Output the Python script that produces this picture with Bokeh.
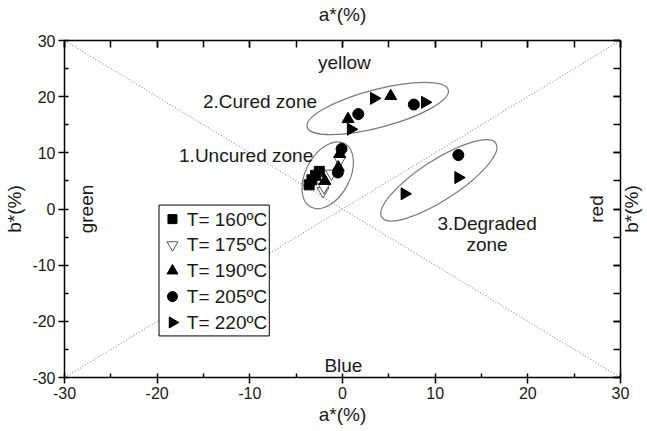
import numpy as np
from bokeh.plotting import figure
from bokeh.models import LinearAxis, SingleIntervalTicker, Range1d, CustomJSTickFormatter
from bokeh.core.properties import value
from bokeh.embed import file_html
from bokeh.resources import INLINE

# ---- data ----
a_160 = [-3.6, -3.3, -2.9, -2.5]
b_160 = [4.3, 5.2, 6.0, 6.7]

a_175 = [-2.1, -2.0, -1.2, -0.3]
b_175 = [3.2, 3.9, 6.3, 8.7]

a_190 = [-1.9, -0.45, -0.3, 0.6, 5.2]
b_190 = [5.0, 7.4, 9.8, 16.0, 20.1]

a_205 = [-0.5, -0.1, 1.7, 7.7, 12.5]
b_205 = [6.5, 10.7, 16.9, 18.6, 9.6]

a_220 = [0.9, 3.4, 8.9, 6.7, 12.5]
b_220 = [14.2, 19.7, 19.0, 2.7, 5.6]

series_labels = ["T= 160ºC", "T= 175ºC", "T= 190ºC", "T= 205ºC", "T= 220ºC"]
axis_title = "a*(%)"
yaxis_title = "b*(%)"

FONT = "Liberation Sans"
TXT = "#1a1a1a"
FL, FR, FT, FB = 64, 27, 38, 54   # frame borders

p = figure(width=647, height=431, output_backend="svg", toolbar_location=None,
           x_range=Range1d(-30, 30), y_range=Range1d(-30, 30),
           x_axis_location=None, y_axis_location=None)
p.min_border_left = FL
p.min_border_right = FR
p.min_border_top = FT
p.min_border_bottom = FB
p.xgrid.visible = False
p.ygrid.visible = False
p.outline_line_color = None
p.background_fill_color = "white"
p.border_fill_color = "white"

fmt = CustomJSTickFormatter(code="return tick.toString();")

def make_axis(label, show_labels, major_out, major_in, minor_out, minor_in):
    ax = LinearAxis(ticker=SingleIntervalTicker(interval=10, num_minor_ticks=2), formatter=fmt)
    ax.axis_label = label
    ax.axis_label_text_font = FONT
    ax.axis_label_text_font_size = "19px"
    ax.axis_label_text_font_style = "normal"
    ax.axis_label_text_color = TXT
    ax.major_label_text_font = FONT
    ax.major_label_text_font_size = "16px"
    ax.major_label_text_color = TXT
    if not show_labels:
        ax.major_label_text_font_size = "0px"
        ax.major_label_standoff = 0
    ax.axis_line_color = "black"
    ax.axis_line_width = 1.5
    ax.major_tick_line_color = "black"
    ax.minor_tick_line_color = "black"
    ax.major_tick_line_width = 1.5
    ax.minor_tick_line_width = 1.5
    ax.major_tick_out = major_out
    ax.major_tick_in = major_in
    ax.minor_tick_out = minor_out
    ax.minor_tick_in = minor_in
    return ax

bottom = make_axis(axis_title, True, 6, 0, 0, 4)
bottom.major_label_standoff = 3
bottom.axis_label_standoff = 2
left = make_axis(yaxis_title, True, 6, 0, 0, 4)
left.major_label_standoff = 3
left.axis_label_standoff = 4
top = make_axis(axis_title, False, 0, 7, 0, 7)
top.axis_label_standoff = 16
right = make_axis("", False, 0, 7, 0, 7)
p.add_layout(bottom, "below")
p.add_layout(left, "left")
p.add_layout(top, "above")
p.add_layout(right, "right")

# right-hand axis title, reading bottom-to-top like the left one (overlay level, outside the frame)
p.text(x=[31.2], y=[0.0], text=[yaxis_title], angle=np.pi / 2, text_font=value(FONT),
       text_font_size="19px", text_color=TXT, text_align="center", text_baseline="middle",
       level="overlay")

# dotted diagonals
p.line([-30, 30], [30, -30], line_color="#9a9a9a", line_dash="1 2", line_width=1.2)
p.line([-30, 30], [-30, 30], line_color="#9a9a9a", line_dash="1 2", line_width=1.2)

# zone outlines
p.ellipse(x=[-1.6], y=[6.0], width=[72], height=[44], angle=[62], angle_units="deg",
          width_units="screen", height_units="screen", fill_color=None,
          line_color="#7a7a7a", line_width=1.2)
p.ellipse(x=[3.8], y=[17.9], width=[146], height=[38], angle=[14.7], angle_units="deg",
          width_units="screen", height_units="screen", fill_color=None,
          line_color="#7a7a7a", line_width=1.2)
p.ellipse(x=[10.4], y=[5.1], width=[136], height=[40], angle=[33], angle_units="deg",
          width_units="screen", height_units="screen", fill_color=None,
          line_color="#7a7a7a", line_width=1.2)

# marker styles per series
styles = [dict(marker="square", size=10, fill_color="black", line_color="black", angle=0.0),
          dict(marker="inverted_triangle", size=12, fill_color="white", line_color="#555555", angle=0.0),
          dict(marker="triangle", size=12, fill_color="black", line_color="black", angle=0.0),
          dict(marker="circle", size=11, fill_color="black", line_color="black", angle=0.0),
          dict(marker="triangle", size=12, fill_color="black", line_color="black", angle=-np.pi / 2)]

series = [(a_160, b_160), (a_175, b_175), (a_190, b_190), (a_205, b_205), (a_220, b_220)]
for (xs, ys), st in zip(series, styles):
    p.scatter(xs, ys, **st)

# annotations
def label(x, y, t, angle=0.0, align="center", size="19px"):
    p.text(x=[x], y=[y], text=[t], angle=angle, text_font=value(FONT), text_font_size=size,
           text_color=TXT, text_align=align, text_baseline="middle")

label(0.2, 26.1, "yellow")
label(0.1, -27.9, "Blue")
label(-27.6, 0.0, "green", angle=np.pi / 2)
label(27.4, 0.0, "red", angle=np.pi / 2)
label(-8.9, 19.1, "2.Cured zone")
label(-10.4, 9.5, "1.Uncured zone")
label(15.6, -2.6, "3.Degraded")
label(15.6, -6.4, "zone")

# legend box (drawn by hand so the 220 marker keeps its rotation)
box_l, box_r, box_t, box_b = -19.8, -7.9, 0.7, -22.6
p.quad(left=[box_l], right=[box_r], top=[box_t], bottom=[box_b],
       fill_color="white", line_color="black", line_width=1)
row_y = [box_t - 2.5 - 4.6 * i for i in range(5)]
for i, st in enumerate(styles):
    s = dict(st)
    s["size"] = st["size"] - 1
    p.scatter([box_l + 1.45], [row_y[i]], **s)
    label(box_l + 3.0, row_y[i], series_labels[i], align="left")

open("out.html", "w").write(file_html(p, INLINE))
